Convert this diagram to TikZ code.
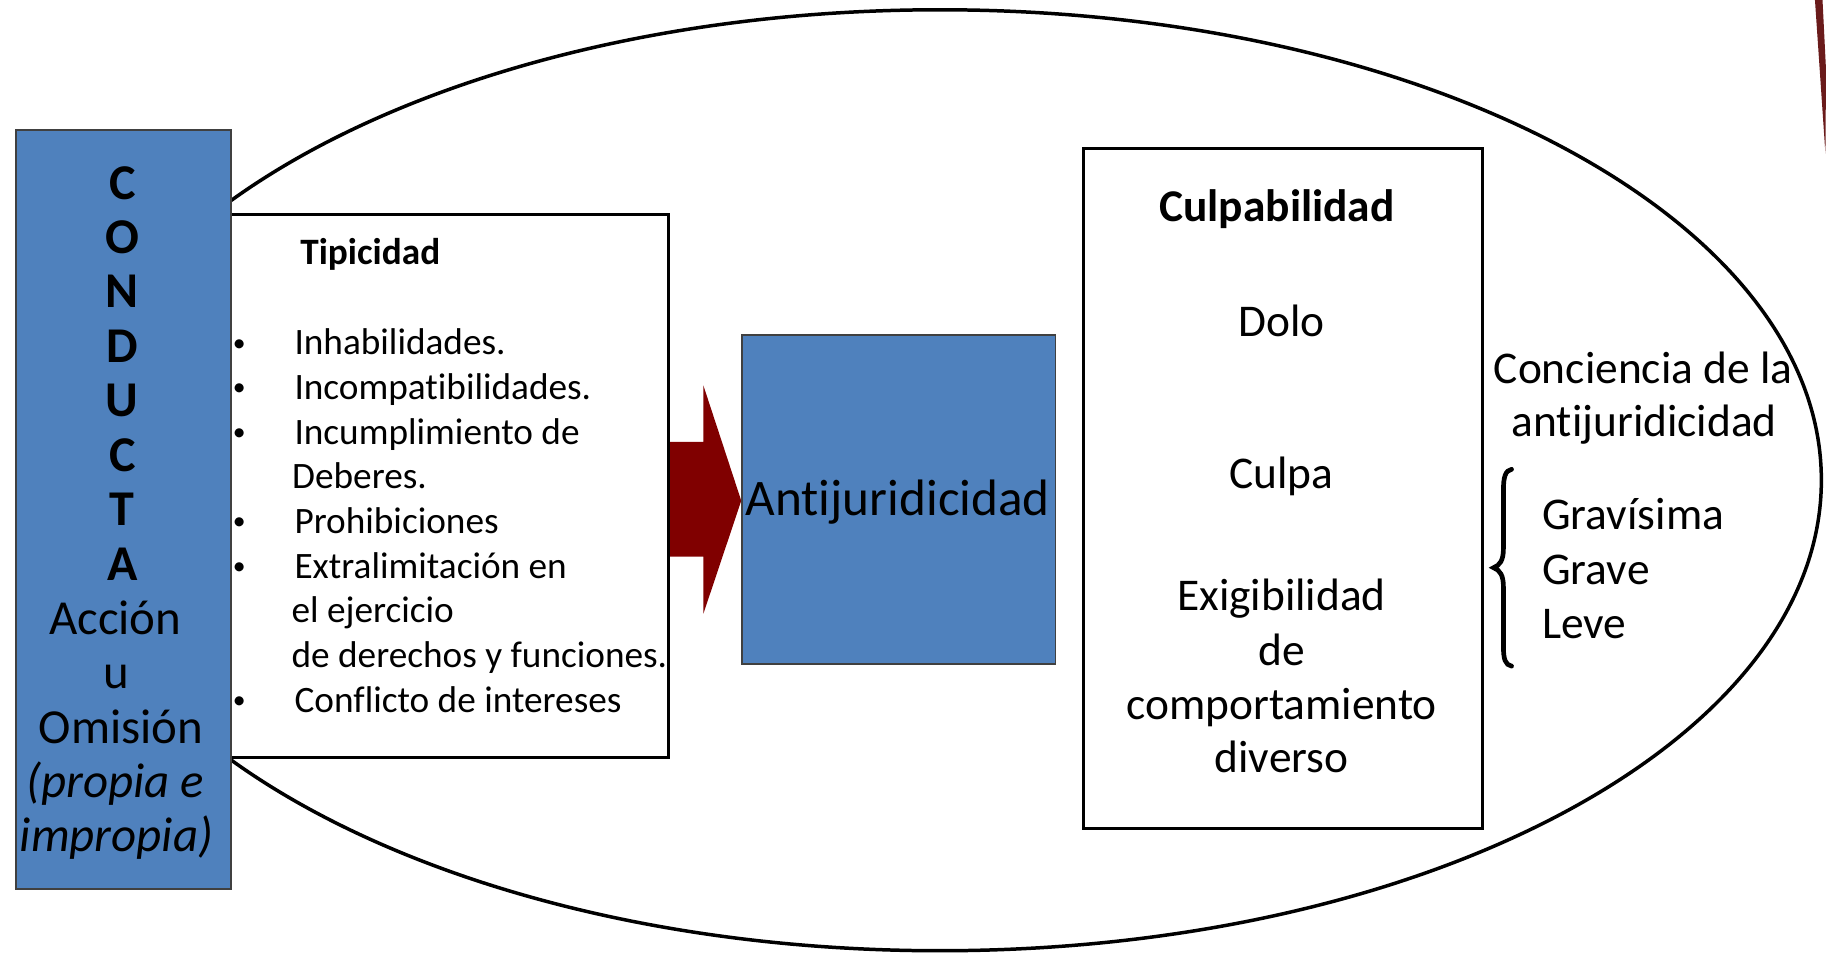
\documentclass[tikz,border=0pt]{standalone}
\usepackage{fontspec}
\setmainfont{Carlito}[RawFeature={-liga}]
\definecolor{boxblue}{HTML}{4F81BD}
\definecolor{arrowred}{HTML}{800000}
\definecolor{edgered}{HTML}{6A1B1B}
\newcommand{\smallbul}{\raisebox{1.6pt}{\fontsize{11}{11}\selectfont •}}
\begin{document}
\begin{tikzpicture}[x=0.5pt,y=-0.5pt,
  bluebox/.style={draw=black!75, line width=0.8pt, fill=boxblue, inner sep=0pt, anchor=north west},
  whitebox/.style={draw=black, line width=1.2pt, fill=white, inner sep=0pt, anchor=north west},
  lw/.style={inner sep=0pt, anchor=base west},
  lc/.style={inner sep=0pt, anchor=base},
  fbul/.style={font=\fontsize{16}{19.2}\selectfont},
  fbulb/.style={font=\fontsize{16}{19.2}\selectfont\bfseries},
  fcon/.style={font=\fontsize{21}{23.35}\selectfont},
  fconb/.style={font=\fontsize{21.5}{23.35}\selectfont\bfseries},
  fconi/.style={font=\fontsize{21}{23.35}\selectfont\itshape},
  fcul/.style={font=\fontsize{19.5}{23.15}\selectfont},
  fculb/.style={font=\fontsize{19.5}{23.15}\selectfont\bfseries},
  fanti/.style={font=\fontsize{22}{26}\selectfont},
]
\useasboundingbox (0,0) rectangle (1568,822.6);
% edge artefact
\fill[edgered] (1558.5,0) -- (1565,0) -- (1568,60) -- (1567.5,132) -- cycle;
% big ellipse
\draw[line width=1.5pt] (807.1,412.4) ellipse [x radius=378.45pt, y radius=202pt];
% block arrow
\fill[arrowred] (573,379.5) -- (604,379.5) -- (604,331) -- (636.5,430) -- (604,527) -- (604,478) -- (573,478) -- cycle;
% boxes
\node[whitebox, minimum width=188pt, minimum height=233.2pt] (tip) at (197,183.2) {};
\node[bluebox, minimum width=92.25pt, minimum height=325.9pt] (con) at (13,111) {};
\node[bluebox, minimum width=134.5pt, minimum height=141.25pt] (anti) at (636.5,287) {};
\node[whitebox, minimum width=171.25pt, minimum height=292.25pt] (cul) at (929,126) {};
% CONDUCTA
\foreach \l [count=\i] in {C,O,N,D,U,C,T,A}
  \node[lc, fconb] (l\i) at (105, {171+46.73*(\i-1)}) {\l};
\node[lc, fcon] (accion) at (99,544.8) {Acción};
\node[lc, fcon] (u) at (99.5,591.5) {u};
\node[lc, fcon] (omision) at (104,638.2) {Omisión};
\node[lc, fconi] (propia) at (99,684.9) {(propia e};
\node[lc, fconi] (impropia) at (100,731.6) {impropia)};
% Tipicidad
\node[lw, fbulb] (tiptitle) at (257.5,227.5) {Tipicidad};
\foreach \y/\t [count=\i] in {304.8/Inhabilidades., 343.2/Incompatibilidades., 381.5/Incumplimiento de, 458.2/Prohibiciones, 496.6/Extralimitación en, 611.6/Conflicto de intereses}{
  \node[lc, fbul] (bul\i) at (205.5,\y) {\smallbul};
  \node[lw, fbul] (item\i) at (252.5,\y) {\t};
}
\node[lw, fbul] (cont1) at (250.5,419.9) {Deberes.};
\node[lw, fbul] (cont2) at (250,534.9) {el ejercicio};
\node[lw, fbul] (cont3) at (250,573.3) {de derechos y funciones.};
% Antijuridicidad
\node[lc, fanti] (antitext) at (771,442.8) {Antijuridicidad};
% Culpabilidad
\node[lc, fculb] (cultitle) at (1096.5,190.3) {Culpabilidad};
\node[lc, fcul] (dolo) at (1100.5,289) {Dolo};
\node[lc, fcul] (culpa) at (1100.5,419.5) {Culpa};
\node[lc, fcul] (exig) at (1100.5,524.4) {Exigibilidad};
\node[lc, fcul] (de) at (1100.5,571.6) {de};
\node[lc, fcul] (comp) at (1100.5,617.6) {comportamiento};
\node[lc, fcul] (div) at (1100.5,663.5) {diverso};
% right side
\node[lc, fcul] (conc) at (1411,329) {Conciencia de la};
\node[lc, fcul] (anti2) at (1412,375) {antijuridicidad};
\node[lw, fcul] (grav1) at (1324,455) {Gravísima};
\node[lw, fcul] (grav2) at (1324,502.3) {Grave};
\node[lw, fcul] (leve) at (1324,548.7) {Leve};
% brace
\draw[line width=2pt, line cap=round] (1298,403) .. controls (1292.5,404) and (1291,410) .. (1291,421) -- (1291,471) .. controls (1291,481) and (1288,485.5) .. (1282.5,487.5) .. controls (1288,489.5) and (1291,494) .. (1291,504) -- (1291,555) .. controls (1291,566) and (1292.5,571) .. (1298,572);
\end{tikzpicture}
\end{document}
